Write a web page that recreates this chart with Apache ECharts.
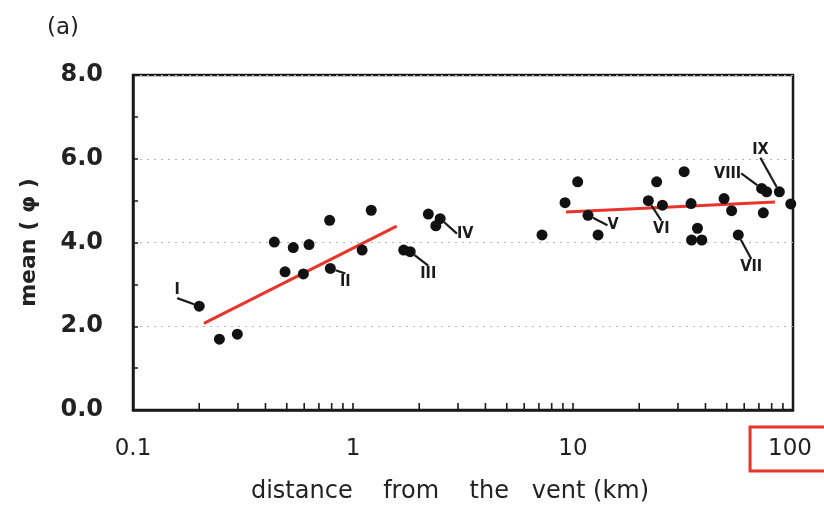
<!DOCTYPE html>
<html>
<head>
<meta charset="utf-8">
<script src="https://cdn.jsdelivr.net/npm/echarts@6/dist/echarts.min.js"></script>
<style>
  html, body { margin: 0; padding: 0; background: #fff; }
  #chart { width: 824px; height: 510px; }
</style>
</head>
<body>
<div id="chart"></div>
<script>
// distance from the vent (km) and mean grain size (phi) of each sample
const distance = [0.2, 0.247, 0.298, 0.439, 0.535, 0.631, 0.491, 0.595, 0.783, 0.789,
  1.10, 1.21, 1.70, 1.82, 2.20, 2.49, 2.38,
  7.23, 9.2, 10.5, 11.7, 13.0, 22.0, 24.0, 25.5, 32.0, 34.4, 36.8, 34.6, 38.5,
  48.6, 52.6, 56.4, 72.0, 75.9, 73.3, 86.7, 97.7];
const meanPhi = [2.48, 1.69, 1.81, 4.01, 3.88, 3.95, 3.30, 3.25, 4.53, 3.38,
  3.82, 4.77, 3.82, 3.78, 4.68, 4.57, 4.40,
  4.18, 4.95, 5.45, 4.65, 4.18, 5.0, 5.45, 4.89, 5.69, 4.93, 4.34, 4.06, 4.06,
  5.05, 4.76, 4.18, 5.29, 5.21, 4.71, 5.21, 4.92];
// unit labels (roman numerals) attached to some samples
const unitName = { 0: 'I', 9: 'II', 13: 'III', 15: 'IV', 20: 'V', 22: 'VI', 32: 'VII', 33: 'VIII', 36: 'IX' };
// fitted trend lines [distance, phi]
const trendNear = [[0.21, 2.07], [1.58, 4.39]];
const trendFar = [[9.3, 4.73], [82.8, 4.97]];
const xLabels = [0.1, 1, 10, 100];
const yTicks = [0, 2, 4, 6, 8];
// x tick positions: 1..9 of each decade
const xTicks = [0.2, 0.3, 0.4, 0.5, 0.6, 0.7, 0.8, 0.9, 1, 2, 3, 4, 5, 6, 7, 8, 9, 10,
  20, 30, 40, 50, 60, 70, 80, 90];

// where each unit label sits relative to its point (px)
const labelShift = { 0: [-22, -16], 9: [15, 13], 13: [18, 22], 15: [25, 15], 20: [25, 10],
  22: [13, 28], 32: [13, 32], 33: [-34, -15], 36: [-19, -42] };

const chart = echarts.init(document.getElementById('chart'));

const points = distance.map((d, i) => {
  const item = { value: [d, meanPhi[i]] };
  if (unitName[i]) {
    item.label = {
      show: true, position: 'inside', formatter: unitName[i],
      fontFamily: 'DejaVu Sans Condensed', fontWeight: 'bold', fontSize: 16, color: '#1a1a1a'
    };
  }
  return item;
});

const trendStyle = {
  type: 'line', symbol: 'none', silent: true, z: 3,
  lineStyle: { color: '#e8352c', width: 3 }
};

const labelFont = { fontFamily: 'DejaVu Sans', fontSize: 23, color: '#222' };

chart.setOption({
  animation: false,
  backgroundColor: '#fff',
  title: {
    text: '(a)', left: 42, top: 12,
    textStyle: { fontFamily: 'DejaVu Sans', fontSize: 23, fontWeight: 'normal', color: '#222' }
  },
  grid: { left: 133, right: 31, top: 75, bottom: 100, outerBoundsMode: 'none',
    show: true, borderColor: '#1a1a1a', borderWidth: 2.5 },
  xAxis: {
    type: 'log', logBase: 10, min: 0.1, max: 100,
    name: 'distance    from    the   vent (km)',
    nameLocation: 'middle', nameGap: 70,
    nameTextStyle: { fontFamily: 'DejaVu Sans', fontSize: 24, color: '#222',
      padding: [0, 26, 0, 0] },
    axisLine: { show: true, lineStyle: { color: '#1a1a1a', width: 2.5 } },
    axisTick: { show: false },
    axisLabel: {
      customValues: xLabels, margin: 17,
      formatter: v => (v >= 99 ? '{box|' + v + '}' : '{plain|' + v + '}'),
      rich: {
        plain: Object.assign({ padding: [11, 20, 10, 20] }, labelFont),
        box: Object.assign({ borderColor: '#e8352c', borderWidth: 3, padding: [11, 24, 10, 18] }, labelFont)
      }
    },
    splitLine: { show: false }
  },
  yAxis: {
    type: 'value', min: 0, max: 8, interval: 2,
    name: 'mean ( φ )', nameLocation: 'middle', nameGap: 93, nameRotate: 90,
    nameTextStyle: { fontFamily: 'DejaVu Sans', fontSize: 22, fontWeight: 'bold', color: '#222' },
    axisLine: { show: true, lineStyle: { color: '#1a1a1a', width: 2.5 } },
    axisTick: { show: true, inside: true, length: 5, lineStyle: { color: '#1a1a1a', width: 1.5 } },
    minorTick: { show: true, splitNumber: 2, length: 5, lineStyle: { color: '#1a1a1a', width: 1.5 } },
    axisLabel: {
      customValues: yTicks, margin: 30,
      fontFamily: 'DejaVu Sans', fontSize: 24, fontWeight: 'bold', color: '#222',
      formatter: v => v.toFixed(1)
    },
    splitLine: { show: true, lineStyle: { type: [2, 5], color: '#b5b5b5', width: 1.2 } }
  },
  series: [
    {
      // inward tick marks on the log x axis
      type: 'scatter', silent: true, z: 5,
      symbol: 'rect', symbolSize: [1.6, 6], symbolOffset: [0, -4],
      itemStyle: { color: '#1a1a1a', opacity: 1 },
      data: xTicks.map(v => [v, 0])
    },
    {
      type: 'scatter', z: 4, symbol: 'circle', symbolSize: 11,
      itemStyle: { color: '#111', opacity: 1 },
      label: { show: false },
      labelLine: { show: true, lineStyle: { color: '#1a1a1a', width: 2.2 } },
      labelLayout: p => {
        const s = labelShift[p.dataIndex];
        return s ? { dx: s[0], dy: s[1] } : {};
      },
      data: points
    },
    Object.assign({ data: trendNear }, trendStyle),
    Object.assign({ data: trendFar }, trendStyle)
  ]
});
</script>
</body>
</html>
